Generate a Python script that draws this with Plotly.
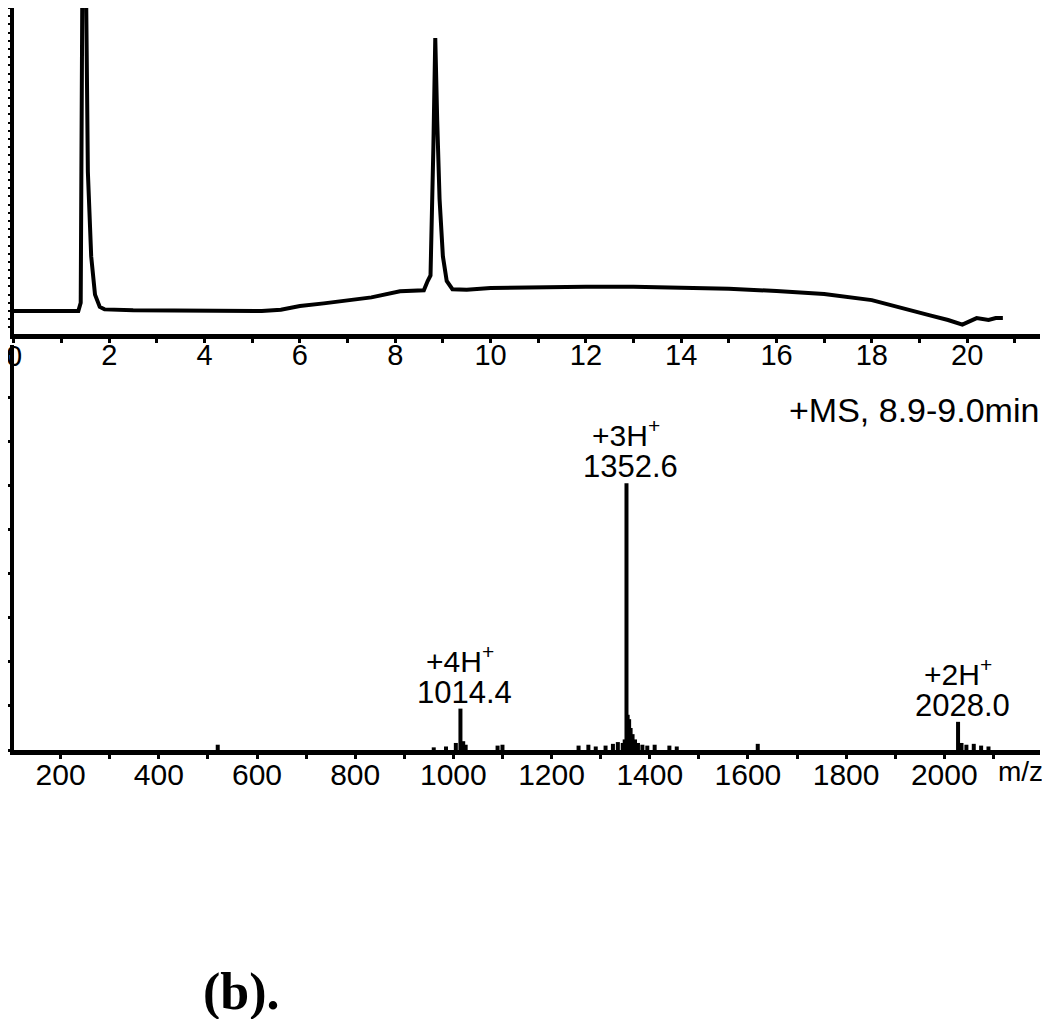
import plotly.graph_objects as go

# --- LC trace (top panel): retention time (min) vs. signal (relative) ---
rt = [0.0, 0.5, 1.0, 1.35, 1.40, 1.44, 1.50, 1.55, 1.62, 1.70, 1.80, 1.90, 2.5,
      3.5, 4.5, 5.2, 5.6, 6.0, 6.5, 6.9, 7.5, 8.1, 8.4, 8.6, 8.68, 8.74, 8.80,
      8.84, 8.88, 8.93, 9.00, 9.08, 9.2, 9.5, 10.0, 11.0, 12.0, 13.0, 14.0,
      15.0, 16.0, 17.0, 18.0, 18.6, 19.2, 19.6, 19.9, 20.2, 20.45, 20.6, 20.75]
signal = [0.0, 0.0, 0.0, 0.0, 3.0, 140.0, 140.0, 51.0, 20.0, 6.0, 1.5, 0.6, 0.3,
          0.2, 0.1, 0.0, 0.5, 1.8, 2.8, 3.6, 5.0, 7.2, 7.6, 7.6, 11.0, 13.0, 60.0,
          100.0, 70.0, 41.0, 20.0, 11.0, 8.0, 7.8, 8.4, 8.8, 8.9, 8.9, 8.7,
          8.2, 7.3, 6.2, 4.0, 1.1, -1.5, -3.3, -5.0, -2.6, -3.3, -2.6, -2.6]

# --- Mass spectrum (bottom panel): m/z vs. intensity (x1e5, estimated) ---
mz = [520, 960, 985, 1005, 1014.4, 1020, 1025, 1090, 1100, 1255, 1275, 1290,
      1310, 1325, 1335, 1345, 1349, 1352.6, 1355, 1358, 1361, 1365, 1370, 1376,
      1385, 1395, 1410, 1440, 1455, 1620, 2028.0, 2035, 2045, 2060, 2075, 2090]
intensity = [0.06, 0.03, 0.04, 0.08, 0.47, 0.10, 0.06, 0.05, 0.06, 0.05, 0.06,
             0.04, 0.05, 0.07, 0.09, 0.08, 0.12, 3.03, 0.40, 0.35, 0.25, 0.18,
             0.12, 0.08, 0.06, 0.05, 0.06, 0.05, 0.04, 0.07, 0.32, 0.08, 0.06,
             0.07, 0.05, 0.04]

# labelled ions
ion_mz = [1014.4, 1352.6, 2028.0]
ion_int = [0.47, 3.03, 0.32]
ion_charge = ["+4H", "+3H", "+2H"]
ion_label = ["1014.4", "1352.6", "2028.0"]

top_xticks = list(range(0, 21, 2))
ms_xticks = list(range(200, 2001, 200))

FONT = "Liberation Sans, Arial, sans-serif"

# page body adds an 8px margin, so the figure is 8px smaller each way
W, H = 1042, 1011


def px(x):
    return x / W


def py(y):
    return 1 - y / H


# stick spectrum built from the arrays
stick_x, stick_y = [], []
for m, h in zip(mz, intensity):
    stick_x += [m, m, None]
    stick_y += [0, h, None]

fig = go.Figure()

fig.add_trace(go.Scatter(
    x=rt, y=signal, mode="lines",
    line=dict(color="black", width=4),
    xaxis="x", yaxis="y", showlegend=False,
))

fig.add_trace(go.Scatter(
    x=stick_x, y=stick_y, mode="lines",
    line=dict(color="black", width=4),
    xaxis="x2", yaxis="y2", showlegend=False,
))

# peak annotations
for m, h, c, lab in zip(ion_mz, ion_int, ion_charge, ion_label):
    fig.add_annotation(x=m, y=h, xref="x2", yref="y2", text=lab,
                       showarrow=False, yanchor="bottom", xshift=4, yshift=-3,
                       font=dict(size=31, color="black", family=FONT))
    fig.add_annotation(x=m, y=h, xref="x2", yref="y2",
                       text=c + "<sup>+</sup>",
                       showarrow=False, yanchor="bottom", xshift=0, yshift=29,
                       font=dict(size=30, color="black", family=FONT))

# "0" of the retention-time axis sits on the y axis and is cut at the edge
fig.add_annotation(x=0, y=py(348), xref="x", yref="paper", text="0",
                   showarrow=False, xanchor="center", yanchor="middle",
                   font=dict(size=29, color="black", family=FONT))

fig.add_annotation(x=px(1033), y=py(402), xref="paper", yref="paper",
                   text="+MS, 8.9-9.0min", showarrow=False,
                   xanchor="right", yanchor="middle",
                   font=dict(size=34, color="black", family=FONT))

fig.add_annotation(x=px(1037), y=py(763), xref="paper", yref="paper",
                   text="m/z", showarrow=False,
                   xanchor="right", yanchor="middle",
                   font=dict(size=28, color="black", family=FONT))

fig.add_annotation(x=px(230), y=py(984), xref="paper", yref="paper",
                   text="<b>(b).</b>", showarrow=False,
                   xanchor="center", yanchor="middle",
                   font=dict(size=52, color="black",
                             family="Liberation Serif, Times New Roman, serif"))

axis_common = dict(showgrid=False, zeroline=False, showline=True,
                   linecolor="black", ticks="outside", tickcolor="black")

fig.update_layout(
    width=W, height=H,
    margin=dict(l=0, r=0, t=0, b=0),
    paper_bgcolor="white", plot_bgcolor="white",
    xaxis=dict(
        **axis_common, domain=[px(2), px(1032)], range=[0, 21.53],
        anchor="y", linewidth=5, tickvals=top_xticks[1:], ticklen=4,
        tickwidth=3, ticklabelstandoff=-13,
        minor=dict(dtick=1, ticks="outside", ticklen=4, tickwidth=3,
                   tickcolor="black", showgrid=False),
        tickfont=dict(size=29, color="black", family=FONT),
    ),
    yaxis=dict(
        **axis_common, domain=[py(326), 1.0], range=[-8.42, 111.0],
        anchor="x", linewidth=4, dtick=3, tick0=0, ticklen=4, tickwidth=2,
        showticklabels=False,
    ),
    xaxis2=dict(
        **axis_common, domain=[px(2), px(1032)], range=[105, 2195],
        anchor="y2", linewidth=5, tickvals=ms_xticks, ticklen=4, tickwidth=3,
        ticklabelstandoff=-10,
        minor=dict(dtick=100, tick0=0, ticks="outside", ticklen=4, tickwidth=3,
                   tickcolor="black", showgrid=False),
        tickfont=dict(size=30, color="black", family=FONT),
    ),
    yaxis2=dict(
        **axis_common, domain=[py(742), py(337)],
        range=[0, 4.6], anchor="x2", linewidth=4, dtick=1, tick0=0,
        ticklen=6, tickwidth=3, showticklabels=False,
        minor=dict(dtick=0.5, ticks="outside", ticklen=4, tickwidth=3,
                   tickcolor="black", showgrid=False),
    ),
)

fig.write_html("out.html")
